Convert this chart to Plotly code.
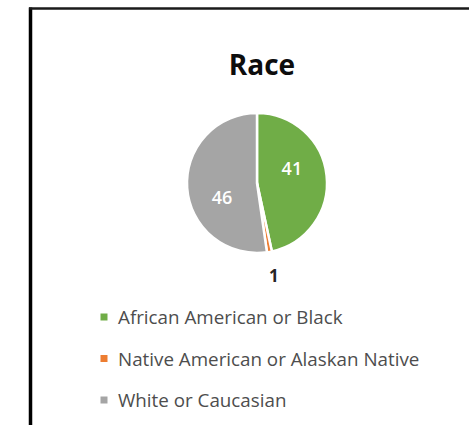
import math
import plotly.graph_objects as go

W, H = 469, 425

# Race breakdown
categories = ["African American or Black", "Native American or Alaskan Native", "White or Caucasian"]
counts = [41, 1, 46]
colors = ["#70AD47", "#ED7D31", "#A5A5A5"]
title_text = "Race"


def fx(x):
    """pixel x -> paper x"""
    return x / W


def fy(y):
    """pixel y (from top) -> paper y"""
    return 1 - y / H


# pie geometry in pixels
cx, cy, r = 257, 183, 70

fig = go.Figure(
    go.Pie(
        labels=categories,
        values=counts,
        sort=False,
        direction="clockwise",
        rotation=0,
        marker=dict(colors=colors, line=dict(color="white", width=2.5)),
        # blank lines nudge each value label toward the slice's outer area
        texttemplate=["%{value}<br> ", "", " <br>%{value}"],
        textposition=["inside", "none", "inside"],
        insidetextorientation="horizontal",
        insidetextfont=dict(color="white", size=18, family="Open Sans", weight=600),
        domain=dict(x=[fx(cx - r), fx(cx + r)], y=[fy(cy + r), fy(cy - r)]),
        showlegend=False,
        hoverinfo="label+value",
    )
)

shapes = []
annotations = []

# small slices get their value written just outside the rim, on the slice's mid-angle
total = sum(counts)
start = 0.0
for v in counts:
    mid = (start + v / 2) / total * 2 * math.pi
    start += v
    if v / total < 0.05:
        rr = r + 24
        annotations.append(dict(
            text=str(v), xref="paper", yref="paper",
            x=fx(cx + rr * math.sin(mid)), y=fy(cy - rr * math.cos(mid)),
            xanchor="center", yanchor="middle", showarrow=False,
            font=dict(family="Open Sans", size=17, color="#262626", weight=700),
        ))

# Legend drawn as swatches + labels, one row per category
row0, row_gap = 317, 41.5
for i, (name, col) in enumerate(zip(categories, colors)):
    yc = row0 + i * row_gap
    shapes.append(dict(
        type="rect", xref="paper", yref="paper",
        x0=fx(100.5), x1=fx(107.5), y0=fy(yc + 3.5), y1=fy(yc - 3.5),
        fillcolor=col, line=dict(width=0),
    ))
    annotations.append(dict(
        text=name, xref="paper", yref="paper",
        x=fx(116), y=fy(yc), xanchor="left", yanchor="middle",
        showarrow=False, font=dict(family="Open Sans", size=18.8, color="#4d4d4d"),
    ))

# Frame: heavy left edge and top edge
shapes.append(dict(type="line", xref="paper", yref="paper",
                   x0=fx(30.5), x1=fx(30.5), y0=fy(7.5), y1=0,
                   line=dict(color="black", width=3.5)))
shapes.append(dict(type="line", xref="paper", yref="paper",
                   x0=fx(29), x1=1, y0=fy(8.5), y1=fy(8.5),
                   line=dict(color="#1a1a1a", width=2.5)))

fig.update_layout(
    width=W,
    height=H,
    autosize=False,
    margin=dict(l=0, r=0, t=0, b=0),
    paper_bgcolor="white",
    plot_bgcolor="white",
    title=dict(
        text=title_text,
        x=fx(262), xanchor="center",
        y=fy(65), yanchor="middle",
        font=dict(family="Open Sans", size=28, color="#0d0d0d", weight=700),
    ),
    shapes=shapes,
    annotations=annotations,
)

fig.write_html("out.html")
